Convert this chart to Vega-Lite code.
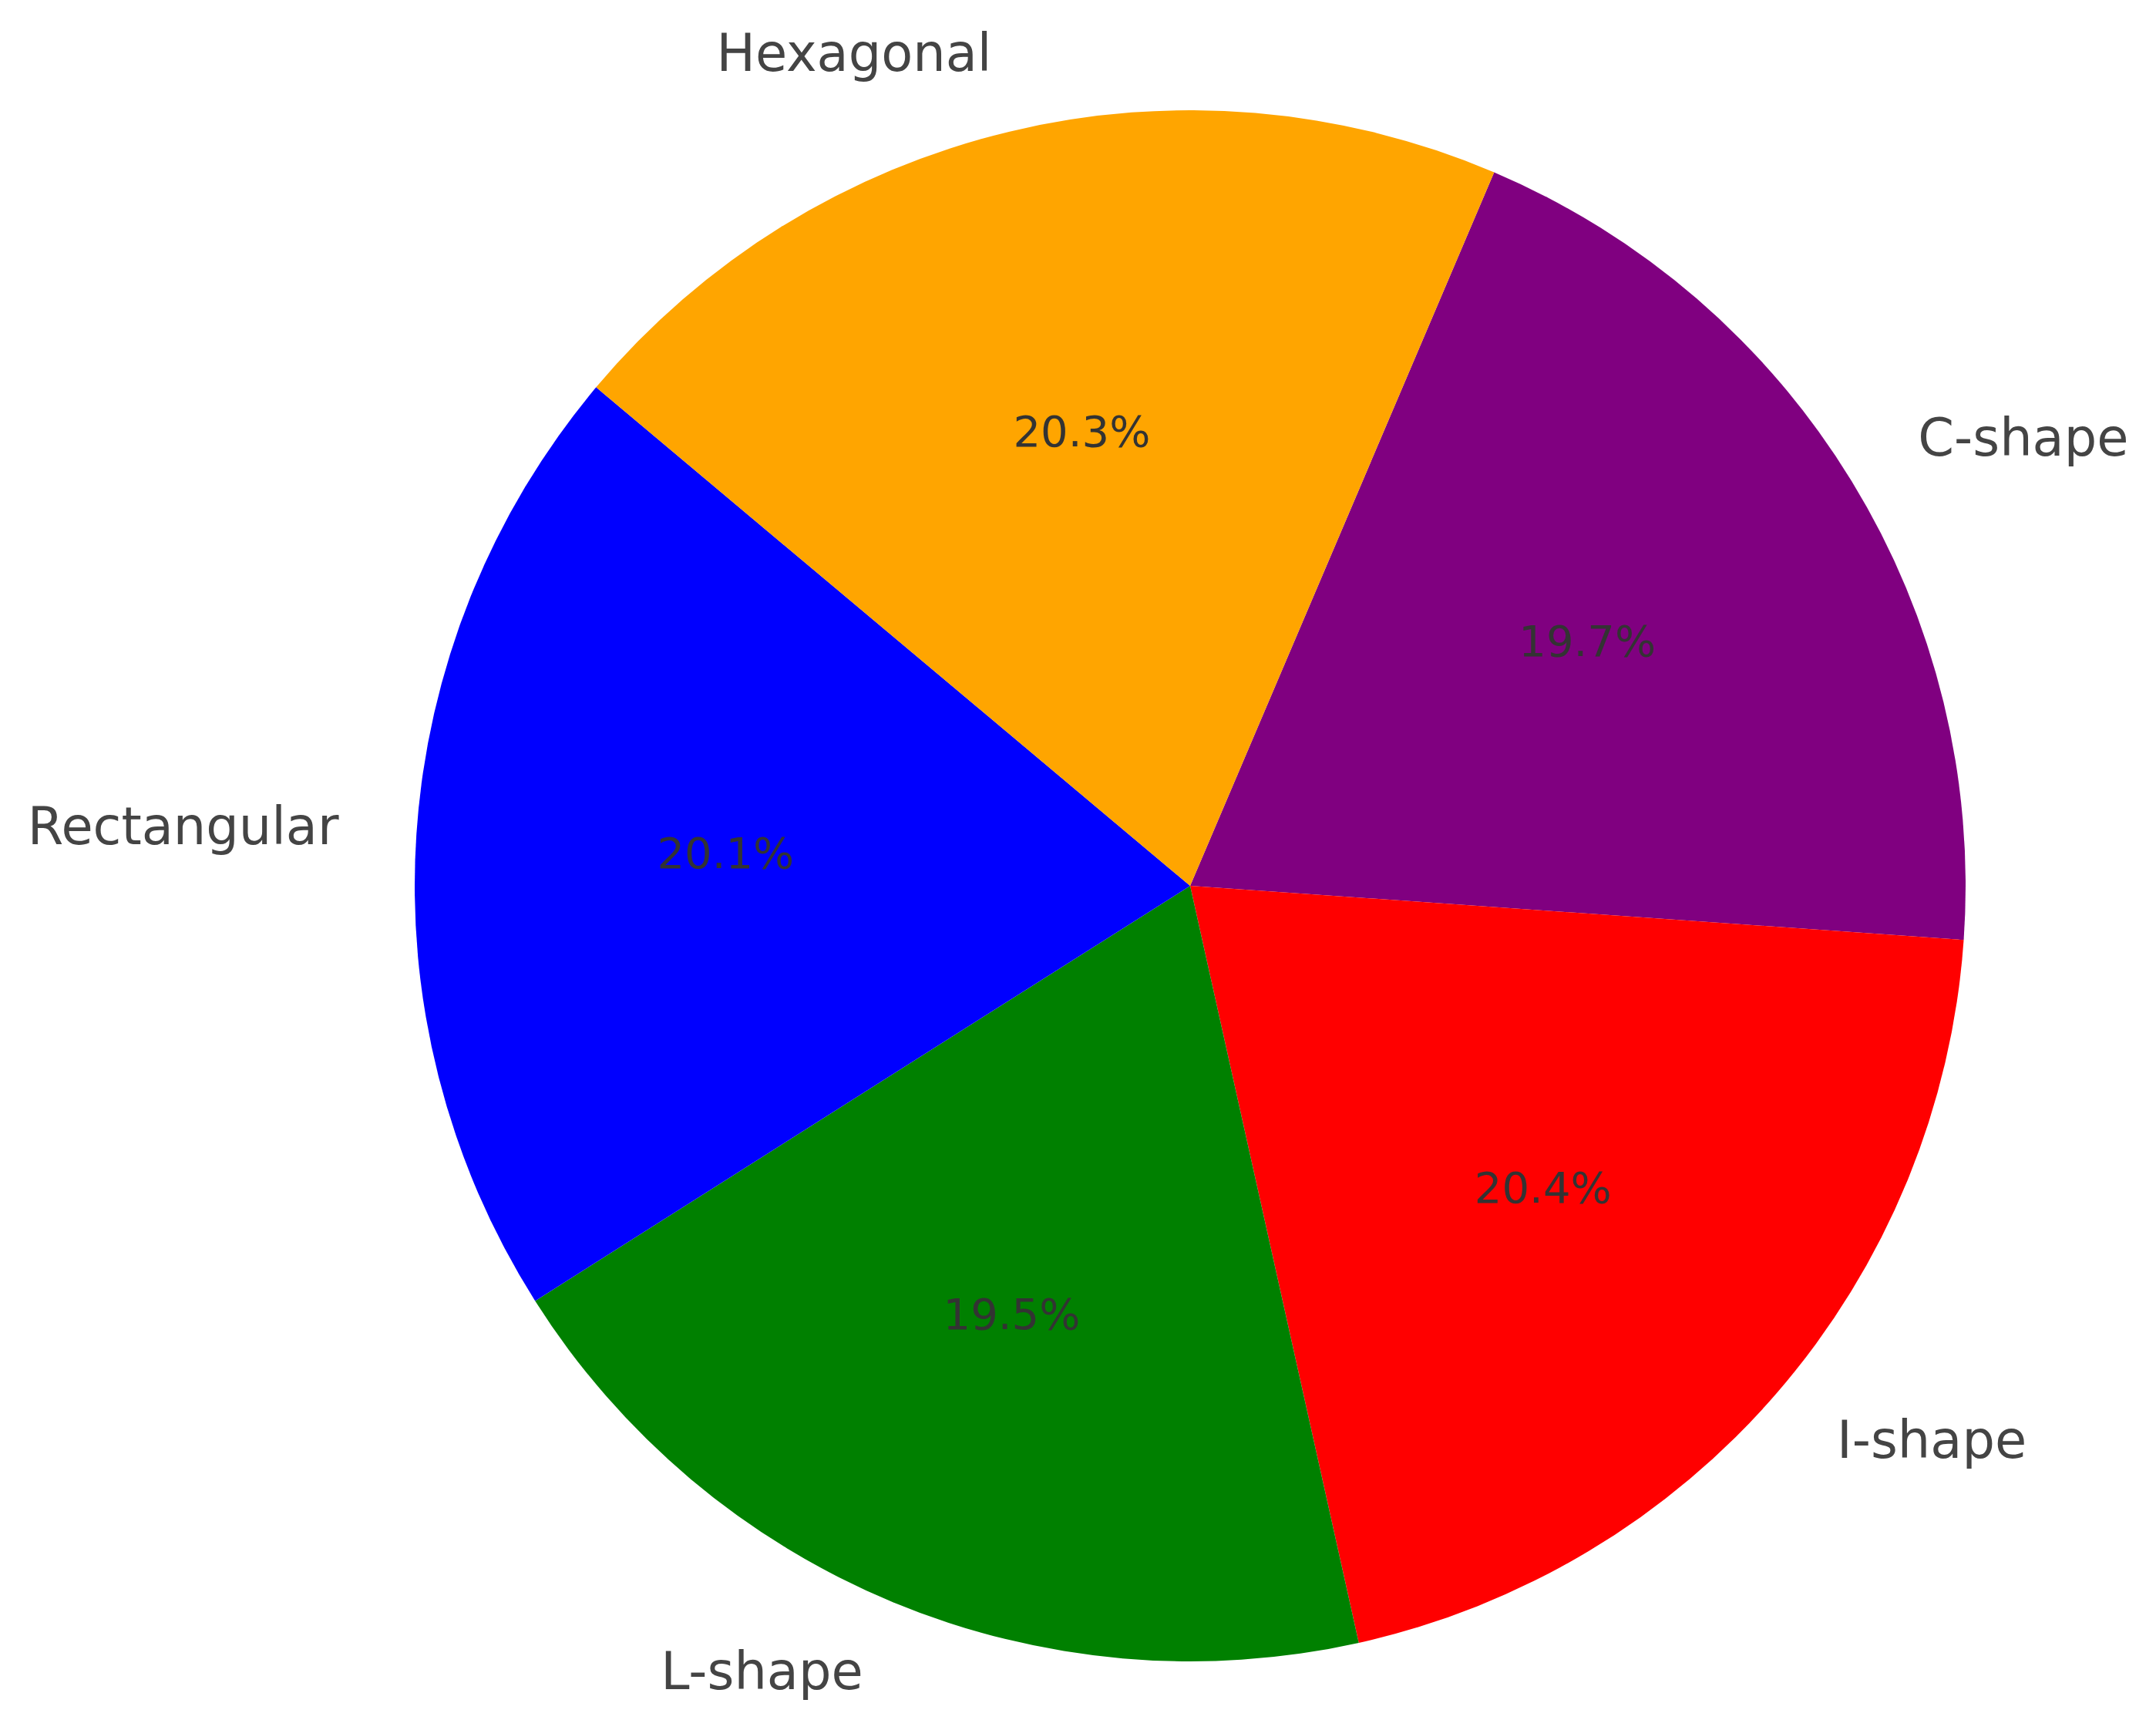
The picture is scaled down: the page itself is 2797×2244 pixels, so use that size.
{
  "$schema": "https://vega.github.io/schema/vega-lite/v6.json",
  "width": 2506,
  "height": 2190,
  "autosize": {"type": "none"},
  "padding": {"left": 291, "top": 54, "right": 0, "bottom": 0},
  "background": "white",
  "config": {"view": {"stroke": null}},
  "data": {
    "values": [
      {"shape": "C-shape", "share": 0.197, "order": 1},
      {"shape": "I-shape", "share": 0.204, "order": 2},
      {"shape": "L-shape", "share": 0.195, "order": 3},
      {"shape": "Rectangular", "share": 0.201, "order": 4},
      {"shape": "Hexagonal", "share": 0.203, "order": 5}
    ]
  },
  "encoding": {
    "theta": {"field": "share", "type": "quantitative", "stack": true, "scale": {"domain": [0, 1], "range": [0.4028, 6.686]}},
    "order": {"field": "order", "type": "quantitative"}
  },
  "layer": [
    {
      "mark": {"type": "arc", "outerRadius": 1006},
      "encoding": {
        "color": {
          "field": "shape", "type": "nominal", "legend": null,
          "scale": {"domain": ["Rectangular", "L-shape", "I-shape", "C-shape", "Hexagonal"], "range": ["#0000FF", "#008000", "#FF0000", "#800080", "#FFA500"]}
        }
      }
    },
    {
      "mark": {"type": "text", "radius": 604, "font": "DejaVu Sans", "fontSize": 56, "fill": "#333333", "align": "center", "baseline": "middle"},
      "encoding": {
        "text": {"field": "share", "type": "quantitative", "format": ".1%"}
      }
    },
    {
      "mark": {"type": "text", "radius": 1107, "font": "DejaVu Sans", "fontSize": 67, "fill": "#444444", "align": "left", "baseline": "middle"},
      "encoding": {
        "text": {"condition": {"test": "datum.shape === 'C-shape' || datum.shape === 'I-shape'", "field": "shape", "type": "nominal"}, "value": ""}
      }
    },
    {
      "mark": {"type": "text", "radius": 1107, "font": "DejaVu Sans", "fontSize": 67, "fill": "#444444", "align": "right", "baseline": "middle"},
      "encoding": {
        "text": {"condition": {"test": "datum.shape !== 'C-shape' && datum.shape !== 'I-shape'", "field": "shape", "type": "nominal"}, "value": ""}
      }
    }
  ]
}
